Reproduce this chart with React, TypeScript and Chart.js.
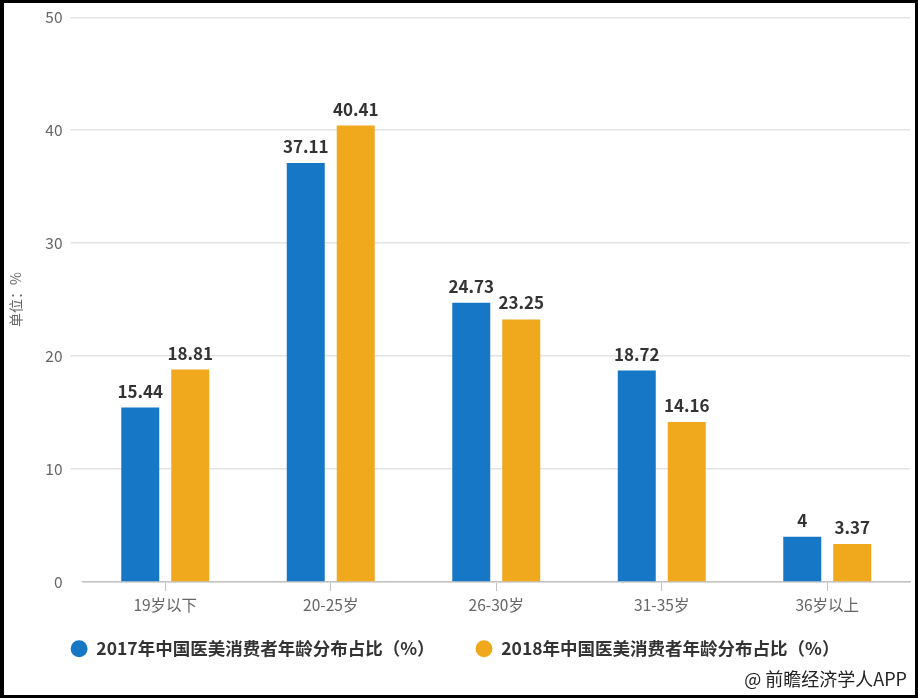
import React, { useEffect, useRef } from "react";
import { Chart, registerables } from "chart.js";

Chart.register(...registerables);

const categories = ["19岁以下", "20-25岁", "26-30岁", "31-35岁", "36岁以上"];
const series2017Name = "2017年中国医美消费者年龄分布占比（%）";
const series2018Name = "2018年中国医美消费者年龄分布占比（%）";
const values2017 = [15.44, 37.11, 24.73, 18.72, 4];
const values2018 = [18.81, 40.41, 23.25, 14.16, 3.37];
const yTicks = [0, 10, 20, 30, 40, 50];
const yTitle = "单位：%";
const sourceNote = "@ 前瞻经济学人APP";

const FONT = '"Noto Sans CJK SC", "Noto Sans", sans-serif';
const BLUE = "#1677c7";
const ORANGE = "#f0a81c";

const valueLabels = {
  id: "valueLabels",
  afterDatasetsDraw(chart: any) {
    const ctx = chart.ctx;
    ctx.save();
    ctx.font = `bold 17px ${FONT}`;
    ctx.fillStyle = "#333333";
    ctx.textAlign = "center";
    ctx.textBaseline = "alphabetic";
    chart.data.datasets.forEach((ds: any, di: number) => {
      const meta = chart.getDatasetMeta(di);
      meta.data.forEach((bar: any, i: number) => {
        ctx.fillText(String(ds.data[i]), bar.x, bar.y - 10);
      });
    });
    ctx.restore();
  },
};

// place the legend row so its items are centred at y ≈ 649
const legendPlacer = {
  id: "legendPlacer",
  afterLayout(chart: any) {
    const lg = chart.legend;
    if (!lg) return;
    lg.top = 599;
    lg.bottom = chart.height;
    lg.height = lg.bottom - lg.top;
  },
};

export default function App() {
  const canvasRef = useRef<HTMLCanvasElement | null>(null);

  useEffect(() => {
    if (!canvasRef.current) return;
    const chart = new Chart(canvasRef.current, {
      type: "bar",
      data: {
        labels: categories,
        datasets: [
          {
            label: series2017Name,
            data: values2017,
            backgroundColor: BLUE,
            categoryPercentage: 0.604,
            barPercentage: 0.76,
          },
          {
            label: series2018Name,
            data: values2018,
            backgroundColor: ORANGE,
            categoryPercentage: 0.604,
            barPercentage: 0.76,
          },
        ],
      },
      options: {
        responsive: false,
        animation: false,
        devicePixelRatio: 1,
        layout: { padding: { top: 17, right: 8, bottom: 20, left: 0 } },
        plugins: {
          tooltip: { enabled: false },
          legend: {
            position: "bottom",
            maxHeight: 60,
            labels: {
              usePointStyle: true,
              pointStyle: "circle",
              boxWidth: 17,
              boxHeight: 12,
              padding: 41,
              color: "#333333",
              font: { family: FONT, size: 17.5, weight: "bold" },
            },
          },
        },
        scales: {
          x: {
            offset: true,
            afterFit: (axis: any) => {
              axis.height = 36;
            },
            grid: {
              display: true,
              offset: false,
              drawOnChartArea: false,
              drawTicks: true,
              tickLength: 9,
              color: "#c3c3c3",
              lineWidth: 1,
            },
            border: { display: true, color: "#c3c3c3", width: 1.5 },
            ticks: {
              padding: 5,
              color: "#666666",
              font: { family: FONT, size: 15.5 },
            },
          },
          y: {
            min: 0,
            max: 50,
            afterFit: (axis: any) => {
              axis.width = 82.5;
            },
            afterBuildTicks: (axis: any) => {
              axis.ticks = yTicks.map((v) => ({ value: v }));
            },
            grid: {
              color: "#e3e3e3",
              lineWidth: 1.5,
              drawTicks: true,
              tickLength: 12,
              tickColor: (c: any) => (c.tick && c.tick.value === 0 ? "rgba(0,0,0,0)" : "#e3e3e3"),
            },
            border: { display: false },
            ticks: {
              padding: 8,
              color: "#666666",
              font: { family: FONT, size: 15.5 },
            },
            title: {
              display: true,
              text: yTitle,
              color: "#666666",
              padding: { top: 7, bottom: 0 },
              font: { family: FONT, size: 14 },
            },
          },
        },
      },
      plugins: [valueLabels, legendPlacer],
    });
    return () => chart.destroy();
  }, []);

  return (
    <div
      style={{
        position: "fixed",
        left: 0,
        top: 0,
        width: 918,
        height: 698,
        background: "#ffffff",
        overflow: "hidden",
      }}
    >
      <canvas
        ref={canvasRef}
        width={918}
        height={698}
        style={{ position: "absolute", left: 0, top: 0, width: 918, height: 698 }}
      />
      <div
        style={{
          position: "absolute",
          right: 11,
          top: 668,
          height: 20,
          lineHeight: "20px",
          fontFamily: FONT,
          fontSize: 18,
          color: "#222222",
          whiteSpace: "nowrap",
        }}
      >
        {sourceNote}
      </div>
      <div
        style={{
          position: "absolute",
          left: 0,
          top: 0,
          width: 918,
          height: 698,
          boxSizing: "border-box",
          borderStyle: "solid",
          borderColor: "#000000",
          borderWidth: "3px 3px 3px 4px",
          pointerEvents: "none",
        }}
      />
    </div>
  );
}
